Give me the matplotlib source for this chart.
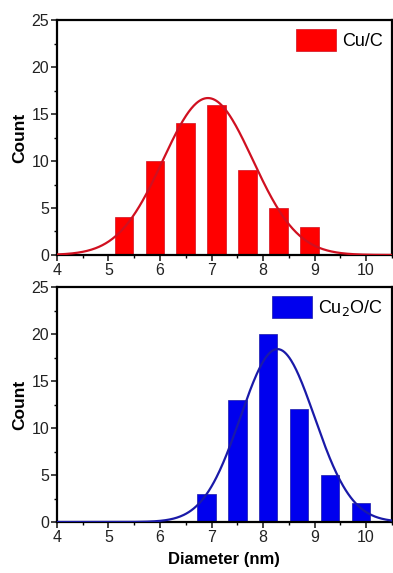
import numpy as np
import matplotlib.pyplot as plt
from matplotlib.ticker import MultipleLocator

plt.rcParams['font.family'] = ['Liberation Sans', 'DejaVu Sans']

# Cu/C histogram
cu_x = [5.3, 5.9, 6.5, 7.1, 7.7, 8.3, 8.9]
cu_count = [4, 10, 14, 16, 9, 5, 3]
cu_fit = (6.93, 0.87, 16.7)   # center, sigma, peak height

# Cu2O/C histogram
cu2o_x = [6.9, 7.5, 8.1, 8.7, 9.3, 9.9]
cu2o_count = [3, 13, 20, 12, 5, 2]
cu2o_fit = (8.28, 0.72, 18.4)

fig = plt.figure(figsize=(3.93, 5.73), dpi=100)
ax1 = fig.add_axes([0.145, 0.555, 0.852, 0.41])
ax2 = fig.add_axes([0.145, 0.089, 0.852, 0.41])

def draw(ax, xs, counts, fit, color, edge, label):
    ax.bar(xs, counts, width=0.36, color=color, edgecolor=edge, linewidth=0.5, label=label, zorder=2)
    xx = np.linspace(4, 10.5, 400)
    c, s, a = fit
    ax.plot(xx, a * np.exp(-(xx - c) ** 2 / (2 * s ** 2)), color=edge, lw=1.6, zorder=3)
    ax.set_xlim(4, 10.5)
    ax.set_ylim(0, 25)
    ax.xaxis.set_major_locator(MultipleLocator(1))
    ax.xaxis.set_minor_locator(MultipleLocator(0.5))
    ax.yaxis.set_major_locator(MultipleLocator(5))
    ax.yaxis.set_minor_locator(MultipleLocator(2.5))
    ax.tick_params(which='major', direction='out', length=4, width=1.2, labelsize=11.5, colors='#222', pad=1.5)
    ax.tick_params(which='minor', direction='out', length=2.5, width=1)
    for sp in ax.spines.values():
        sp.set_linewidth(1.6)
    ax.set_ylabel('Count', fontsize=12.5, fontweight='bold', labelpad=3)
    ax.legend(loc='upper right', frameon=False, fontsize=13, handlelength=2.2, handleheight=1.45,
              borderaxespad=0.2, handletextpad=0.35, borderpad=0.3)

draw(ax1, cu_x, cu_count, cu_fit, '#ff0000', '#d01020', 'Cu/C')
draw(ax2, cu2o_x, cu2o_count, cu2o_fit, '#0000ee', '#1a1aa8', 'Cu$_2$O/C')
ax2.set_xlabel('Diameter (nm)', fontsize=12, fontweight='bold', labelpad=5)

fig.savefig('out.png', dpi=100)
